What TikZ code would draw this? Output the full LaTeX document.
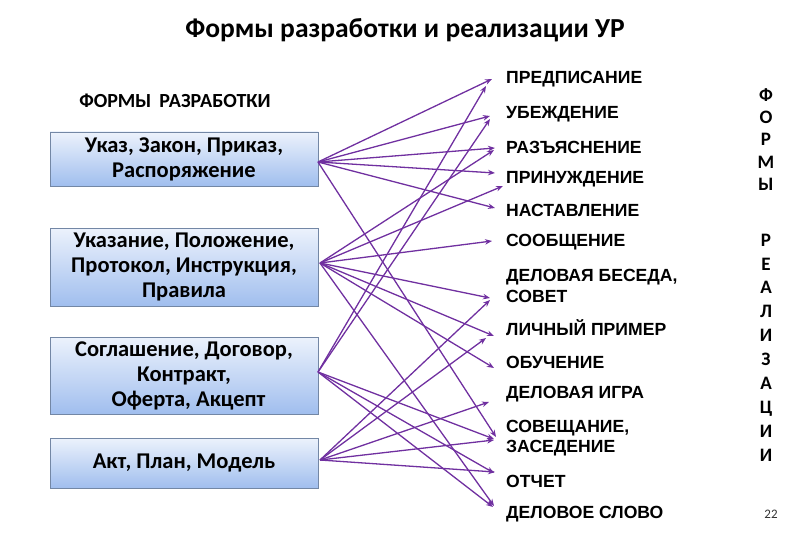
\documentclass[tikz,border=0pt]{standalone}
\usepackage{fontspec}
\setmainfont{Carlito}
\newfontfamily\arialf{Liberation Sans}
\usetikzlibrary{arrows.meta}
\definecolor{arr}{RGB}{112,48,160}
\definecolor{boxtop}{RGB}{236,242,252}
\definecolor{boxbot}{RGB}{160,190,238}
\definecolor{boxline}{RGB}{115,135,165}
\begin{document}
\begin{tikzpicture}[x=1pt,y=-1pt,
  formbox/.style={draw=boxline, line width=0.8pt, top color=boxtop, bottom color=boxbot,
    minimum width=268pt, align=center, font=\bfseries\fontsize{22.5}{25}\selectfont, inner sep=0pt},
  item/.style={anchor=west, align=left, font=\arialf\bfseries\fontsize{17.6}{20.5}\selectfont, inner sep=0pt},
  letters/.style={align=center, inner sep=0pt},
  link/.style={draw=arr, line width=1.3pt, -{Stealth[length=7pt,width=5.5pt]}}]
\useasboundingbox (0,0) rectangle (810,540);

% titles
\node[font=\bfseries\fontsize{27.5}{30}\selectfont] (title) at (405,30) {Формы разработки и реализации УР};
\node[font=\bfseries\fontsize{20}{24}\selectfont] (head) at (175,101) {ФОРМЫ\hspace{0.4em}РАЗРАБОТКИ};

% left boxes
\node[formbox, minimum height=54pt] (b1) at (184,159) {Указ, Закон, Приказ,\\ Распоряжение};
\node[formbox, minimum height=78pt] (b2) at (184,267) {Указание, Положение,\\ Протокол, Инструкция,\\ Правила};
\node[formbox, minimum height=77pt] (b3) at (184,375.5) {Соглашение, Договор,\\ Контракт,\\ \hspace{0.4em}Оферта, Акцепт};
\node[formbox, minimum height=50pt] (b4) at (184,463) {Акт, План, Модель};

% right items
\node[item] (i1) at (506,79) {ПРЕДПИСАНИЕ};
\node[item] (i2) at (506,114) {УБЕЖДЕНИЕ};
\node[item] (i3) at (506,147) {РАЗЪЯСНЕНИЕ};
\node[item] (i4) at (506,179) {ПРИНУЖДЕНИЕ};
\node[item] (i5) at (506,210) {НАСТАВЛЕНИЕ};
\node[item] (i6) at (506,242) {СООБЩЕНИЕ};
\node[item] (i7) at (506,286) {ДЕЛОВАЯ БЕСЕДА,\\СОВЕТ};
\node[item] (i8) at (506,328) {ЛИЧНЫЙ ПРИМЕР};
\node[item] (i9) at (506,362) {ОБУЧЕНИЕ};
\node[item] (i10) at (506,394) {ДЕЛОВАЯ ИГРА};
\node[item] (i11) at (506,438) {СОВЕЩАНИЕ,\\ЗАСЕДЕНИЕ};
\node[item] (i12) at (506,481) {ОТЧЕТ};
\node[item] (i13) at (506,514) {ДЕЛОВОЕ СЛОВО};

% vertical letters
\node[letters, font=\bfseries\fontsize{19}{22.3}\selectfont] (formy) at (766,139.5) {Ф\\О\\Р\\М\\Ы};
\node[letters, font=\bfseries\fontsize{19}{23.9}\selectfont] (realiz) at (766,347.5) {Р\\Е\\А\\Л\\И\\З\\А\\Ц\\И\\И};
\node[font=\fontsize{13}{15}\selectfont, text=black!80] (page) at (771,514) {22};

% sources
\coordinate (s1) at (318,162);
\coordinate (s2) at (320,263);
\coordinate (s3) at (318,372);
\coordinate (s4) at (320,460);

% targets
\coordinate (t1a) at (492,79);
\coordinate (t1b) at (486,86);
\coordinate (t2a) at (490,116);
\coordinate (t2b) at (490,119);
\coordinate (t3a) at (495,148);
\coordinate (t3b) at (494,150);
\coordinate (t4a) at (495,173);
\coordinate (t4b) at (503,186);
\coordinate (t5) at (495,208);
\coordinate (t6) at (492,241);
\coordinate (t7a) at (490,298);
\coordinate (t7b) at (490,300);
\coordinate (t8a) at (494,336);
\coordinate (t8b) at (486,338);
\coordinate (t9) at (494,368);
\coordinate (t10) at (489,402);
\coordinate (t11a) at (496,437);
\coordinate (t11b) at (494,439);
\coordinate (t11c) at (494,440);
\coordinate (t12a) at (494,473);
\coordinate (t12b) at (495,472);
\coordinate (t13a) at (494,506);
\coordinate (t13b) at (493,507);

% links from box 1
\draw[link] (s1) -- (t1a);
\draw[link] (s1) -- (t2a);
\draw[link] (s1) -- (t3a);
\draw[link] (s1) -- (t4a);
\draw[link] (s1) -- (t5);
\draw[link] (s1) -- (t11a);
% links from box 2
\draw[link] (s2) -- (t3b);
\draw[link] (s2) -- (t4b);
\draw[link] (s2) -- (t6);
\draw[link] (s2) -- (t7a);
\draw[link] (s2) -- (t8a);
\draw[link] (s2) -- (t9);
\draw[link] (s2) -- (t13a);
% links from box 3
\draw[link] (s3) -- (t1b);
\draw[link] (s3) -- (t2b);
\draw[link] (s3) -- (t11b);
\draw[link] (s3) -- (t12a);
\draw[link] (s3) -- (t13b);
% links from box 4
\draw[link] (s4) -- (t7b);
\draw[link] (s4) -- (t8b);
\draw[link] (s4) -- (t10);
\draw[link] (s4) -- (t11c);
\draw[link] (s4) -- (t12b);
\end{tikzpicture}
\end{document}
